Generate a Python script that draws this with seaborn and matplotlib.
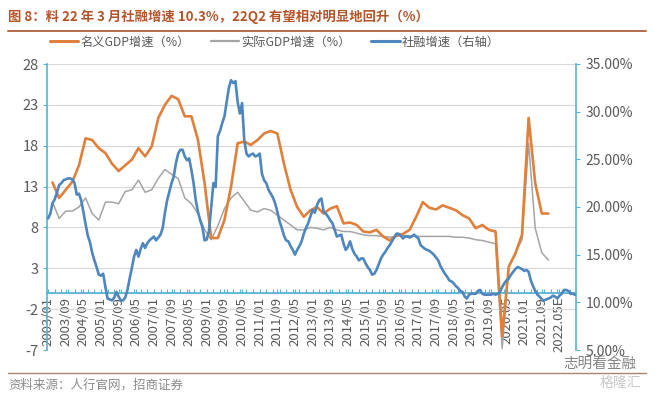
import numpy as np
import pandas as pd
import matplotlib
matplotlib.use("Agg")
import matplotlib.pyplot as plt
from matplotlib.lines import Line2D
from matplotlib.ticker import FuncFormatter, MultipleLocator
import seaborn as sns

# monthly categories of the chart and quarterly GDP points
months = pd.period_range("2003-01", "2022-12", freq="M")
quarters = pd.period_range("2003Q1", "2021Q4", freq="Q")

# 名义GDP增速 (%), quarterly, 2003Q1-2021Q4
nominal_gdp = [13.5, 11.6, 12.6, 13.6, 15.6, 18.9, 18.7, 17.7, 17.1, 15.8,
               14.9, 15.6, 16.3, 17.7, 16.7, 17.9, 21.4, 23.0, 24.1, 23.7,
               21.6, 21.6, 18.7, 13.4, 6.7, 6.7, 8.9, 13.0, 18.3, 18.5,
               18.1, 18.7, 19.5, 19.8, 19.5, 15.8, 12.6, 10.5, 9.3, 10.1,
               10.5, 9.7, 10.3, 10.6, 8.5, 8.6, 8.3, 7.5, 7.4, 7.7,
               6.9, 6.4, 7.0, 7.2, 7.7, 9.3, 11.1, 10.4, 10.2, 10.7,
               10.4, 10.1, 9.5, 9.1, 7.9, 8.3, 7.7, 7.5, -5.3, 3.2,
               4.8, 7.1, 21.4, 13.4, 9.7, 9.7]

# 实际GDP增速 (%), quarterly, 2003Q1-2021Q4
real_gdp = [11.1, 9.1, 10.0, 10.0, 10.5, 11.6, 9.7, 8.9, 11.1, 11.1,
            10.9, 12.4, 12.6, 13.8, 12.3, 12.6, 14.0, 15.1, 14.5, 14.0,
            11.6, 10.9, 9.7, 7.7, 6.5, 8.2, 10.3, 11.6, 12.3, 11.2,
            10.1, 9.9, 10.3, 10.1, 9.5, 8.9, 8.3, 7.7, 7.7, 8.0,
            7.9, 7.7, 8.0, 7.7, 7.5, 7.5, 7.3, 7.1, 7.0, 7.0,
            6.9, 6.8, 6.9, 7.0, 7.0, 6.9, 6.9, 6.9, 6.9, 6.9,
            6.9, 6.8, 6.8, 6.7, 6.5, 6.4, 6.2, 6.0, -6.8, 3.2,
            4.9, 6.5, 18.3, 7.9, 4.9, 4.0]

# 社融增速 (%), monthly, 2003/01-2022/12
afre_growth = [
    18.8, 19.3, 20.4, 20.8, 21.5, 22.3, 22.5, 22.8, 22.9, 23.0, 23.0, 22.9,
    22.5, 21.3, 21.4, 20.7, 19.5, 18.2, 17.0, 16.3, 15.2, 14.4, 13.7, 12.9,
    12.8, 13.0, 11.6, 10.4, 10.3, 10.2, 10.5, 11.1, 10.6, 10.2, 10.2, 10.5,
    11.3, 12.5, 13.6, 14.8, 15.5, 14.8, 15.6, 16.2, 15.7, 16.2, 16.5, 16.7,
    16.9, 16.5, 16.8, 17.1, 17.8, 19.4, 20.7, 21.6, 22.5, 23.2, 24.6, 25.6,
    26.0, 26.0, 25.3, 24.9, 25.1, 23.9, 22.5, 20.7, 19.5, 18.6, 17.9, 16.5,
    16.6, 17.5, 20.0, 22.5, 22.1, 27.4, 28.0, 28.8, 29.5, 31.0, 32.5, 33.3,
    33.0, 33.2, 31.0, 29.8, 30.9, 27.0, 25.6, 25.3, 25.5, 25.6, 25.3, 25.4,
    25.6, 23.5, 22.8, 22.5, 21.8, 21.4, 21.0, 20.4, 19.5, 18.5, 17.8, 17.0,
    16.5, 16.4, 15.9, 15.5, 15.0, 15.5, 15.9, 16.4, 17.2, 17.8, 18.3, 19.0,
    19.7, 19.4, 20.2, 20.7, 20.9, 19.5, 19.3, 19.0, 18.6, 18.3, 17.6, 16.9,
    17.0, 17.1, 16.2, 15.5, 15.8, 16.4, 15.6, 15.1, 14.8, 14.4, 14.6, 14.6,
    14.1, 13.7, 13.4, 12.9, 13.0, 13.4, 14.0, 14.6, 15.0, 15.3, 15.7, 16.0,
    16.4, 16.8, 17.2, 17.2, 17.0, 16.7, 16.9, 16.9, 16.8, 16.9, 17.1, 16.9,
    16.7, 16.0, 15.8, 15.6, 15.5, 15.4, 15.2, 15.0, 14.7, 14.4, 13.8, 13.4,
    13.0, 12.7, 12.3, 12.2, 12.0, 11.7, 11.5, 11.2, 11.1, 10.6, 10.4, 10.8,
    10.9, 10.9, 10.9, 11.2, 11.3, 10.9, 10.8, 10.8, 10.8, 10.8, 10.9, 10.8,
    10.9, 11.1, 11.6, 12.0, 12.3, 12.5, 12.9, 13.2, 13.5, 13.7, 13.6, 13.5,
    13.3, 13.4, 13.2, 12.3, 11.7, 11.2, 10.8, 10.6, 10.3, 10.2, 10.3, 10.4,
    10.5, 10.7, 10.6, 10.4, 10.7, 10.9, 11.3, 11.3, 11.2, 10.9, 10.9, 10.8,
]

tick_labels = ["2003/01", "2003/09", "2004/05", "2005/01", "2005/09", "2006/05",
               "2007/01", "2007/09", "2008/05", "2009/01", "2009/09", "2010/05",
               "2011/01", "2011/09", "2012/05", "2013/01", "2013/09", "2014/05",
               "2015/01", "2015/09", "2016/05", "2017/01", "2017/09", "2018/05",
               "2019/01", "2019.09", "2020.05", "2021.01", "2021.09", "2022.05E"]

series_names = ["名义GDP增速（%）", "实际GDP增速（%）", "社融增速（右轴）"]

ORANGE = "#E0803A"
GRAY = "#A5A5A5"
BLUE = "#4E86BE"
TEAL = "#5AB2D4"
TXT = "#595959"

month_pos = {p: i for i, p in enumerate(months)}
gdp = pd.DataFrame({
    "x": [month_pos[q.asfreq("M", how="end")] for q in quarters],
    "nominal": nominal_gdp,
    "real": real_gdp,
})
afre = pd.DataFrame({"x": np.arange(len(months)), "afre": afre_growth})

sns.set_style("white")
plt.rcParams["font.family"] = ["Noto Sans CJK SC", "DejaVu Sans"]
plt.rcParams["axes.unicode_minus"] = False

fig = plt.figure(figsize=(6.54, 3.95), dpi=100)
ax = fig.add_axes([47 / 654, 1 - 350 / 395, 529 / 654, 286 / 395])

sns.lineplot(data=gdp, x="x", y="real", ax=ax, color=GRAY, lw=1.1, zorder=3)
sns.lineplot(data=gdp, x="x", y="nominal", ax=ax, color=ORANGE, lw=1.9, zorder=4)
ax2 = ax.twinx()
sns.lineplot(data=afre, x="x", y="afre", ax=ax2, color=BLUE, lw=1.9, zorder=5)

ax.set_xlim(-0.5, len(months) - 0.5)
ax.set_ylim(-7, 28)
ax.set_yticks(range(-7, 29, 5))
ax2.set_ylim(5, 35)
ax2.set_yticks(range(5, 36, 5))
ax2.yaxis.set_major_formatter(FuncFormatter(lambda v, _: f"{v:.2f}%"))

ax.set_xticks(np.arange(0, len(months), 8)[:len(tick_labels)])
ax.set_xticklabels(tick_labels)
ax.xaxis.set_minor_locator(MultipleLocator(3))

for a in (ax, ax2):
    a.set_xlabel("")
    a.set_ylabel("")

ax.grid(axis="y", color="#D9D9D9", lw=0.9)
ax.grid(axis="x", visible=False)
ax.set_axisbelow(True)

ax.spines["top"].set_visible(False)
ax.spines["right"].set_visible(False)
ax.spines["bottom"].set_position(("data", 0))
ax.spines["bottom"].set_color(TEAL)
ax.spines["bottom"].set_linewidth(1.3)
ax.spines["left"].set_color(TEAL)
ax.spines["left"].set_linewidth(1.2)
for s in ("top", "bottom", "left"):
    ax2.spines[s].set_visible(False)
ax2.spines["right"].set_color(TEAL)
ax2.spines["right"].set_linewidth(1.2)

ax.tick_params(axis="y", left=True, length=3, width=0.8, color=TEAL,
               labelsize=10.5, labelcolor=TXT, pad=3)
ax.tick_params(axis="x", which="both", bottom=True, direction="in", length=3,
               width=0.8, color=TEAL, labelsize=9.5, labelcolor=TXT, pad=3,
               labelrotation=90)
ax2.tick_params(axis="y", right=True, length=3, width=0.8, color=TEAL,
                labelsize=10, labelcolor=TXT, pad=4)

handles = [Line2D([], [], color=ORANGE, lw=2.2),
           Line2D([], [], color=GRAY, lw=1.6),
           Line2D([], [], color=BLUE, lw=2.2)]
fig.legend(handles, series_names, loc="center", ncol=3,
           bbox_to_anchor=(275 / 654, 1 - 42 / 395), frameon=False,
           fontsize=8.8, labelcolor=TXT, handlelength=2.3, handletextpad=0.2,
           columnspacing=1.7)

fig.text(8 / 654, 1 - 17 / 395,
         "图 8：料 22 年 3 月社融增速 10.3%，22Q2 有望相对明显地回升（%）",
         fontsize=9.6, fontweight="bold", color="#B5552B", va="center", ha="left")
fig.add_artist(Line2D([8 / 654, 646 / 654], [1 - 31 / 395] * 2,
                      color="#B36A4B", lw=1.4))
fig.add_artist(Line2D([8 / 654, 646 / 654], [1 - 373 / 395] * 2,
                      color="#A58672", lw=1.0))
fig.text(8 / 654, 1 - 385 / 395, "资料来源：人行官网，招商证券",
         fontsize=9, color="#8C8C8C", va="center", ha="left")

# watermark
fig.text(600 / 654, 1 - 364 / 395, "志明看金融", fontsize=10.5, color="#666666",
         alpha=0.8, va="center", ha="center")
fig.text(620 / 654, 1 - 383 / 395, "格隆汇", fontsize=10, color="#BBBBBB",
         alpha=0.8, va="center", ha="center")

fig.savefig("out.png", dpi=100)
